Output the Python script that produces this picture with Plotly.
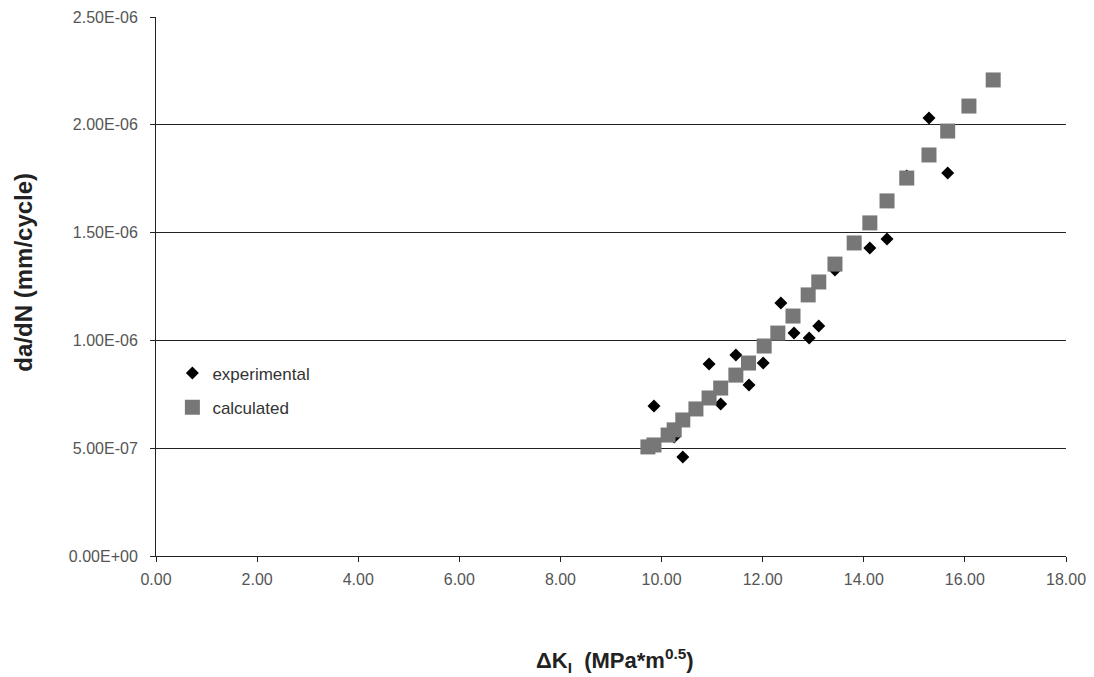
import plotly.graph_objects as go

# Stress-intensity range (MPa*m^0.5) and crack growth rate (mm/cycle)
exp_dk = [9.85, 10.25, 10.42, 10.94, 11.17, 11.47, 11.73, 12.01, 12.36, 12.62,
          12.92, 13.11, 13.43, 14.12, 14.46, 14.85, 15.29, 15.66]
exp_rate = [6.96e-07, 5.52e-07, 4.59e-07, 8.91e-07, 7.05e-07, 9.32e-07, 7.93e-07,
            8.95e-07, 1.173e-06, 1.034e-06, 1.011e-06, 1.067e-06, 1.327e-06,
            1.429e-06, 1.470e-06, 1.762e-06, 2.032e-06, 1.776e-06]

calc_dk = [9.73, 9.85, 10.13, 10.25, 10.42, 10.68, 10.94, 11.17, 11.47, 11.72,
           12.03, 12.30, 12.60, 12.90, 13.11, 13.43, 13.81, 14.12, 14.46, 14.85,
           15.29, 15.66, 16.08, 16.56]
calc_rate = [5.06e-07, 5.15e-07, 5.61e-07, 5.85e-07, 6.31e-07, 6.82e-07, 7.33e-07,
             7.79e-07, 8.39e-07, 8.95e-07, 9.74e-07, 1.034e-06, 1.113e-06,
             1.211e-06, 1.271e-06, 1.354e-06, 1.452e-06, 1.545e-06, 1.647e-06,
             1.753e-06, 1.860e-06, 1.971e-06, 2.087e-06, 2.208e-06]

y_ticks = [0, 5e-07, 1e-06, 1.5e-06, 2e-06, 2.5e-06]
y_tick_text = ["0.00E+00", "5.00E-07", "1.00E-06", "1.50E-06", "2.00E-06", "2.50E-06"]
x_ticks = [0, 2, 4, 6, 8, 10, 12, 14, 16, 18]

FONT = "Liberation Sans, Arial, sans-serif"

fig = go.Figure()
fig.add_trace(go.Scatter(
    x=exp_dk, y=exp_rate, mode="markers", name="experimental", legendgroup="exp",
    marker=dict(symbol="diamond", size=10, color="black"),
))
fig.add_trace(go.Scatter(
    x=calc_dk, y=calc_rate, mode="markers", name="calculated", legendgroup="calc",
    marker=dict(symbol="square", size=15, color="#777777"),
))

fig.update_layout(
    width=1094, height=677,
    margin=dict(l=156, r=28, t=17, b=121),
    paper_bgcolor="white", plot_bgcolor="white",
    font=dict(family=FONT, color="#555555", size=16),
    showlegend=True,
    legend=dict(
        x=0.018, y=0.372, xanchor="left", yanchor="top",
        bgcolor="rgba(0,0,0,0)", font=dict(size=17, color="#333333"),
        itemsizing="trace", traceorder="grouped", tracegroupgap=9,
    ),
    xaxis=dict(
        range=[0, 18], tickvals=x_ticks, tickformat=".2f", automargin=False,
        showgrid=False, zeroline=False,
        showline=True, linecolor="#222222", linewidth=1,
        ticks="outside", ticklen=5, tickcolor="#222222", ticklabelstandoff=4,
        tickfont=dict(size=16, color="#555555"),
    ),
    yaxis=dict(
        range=[0, 2.5e-06], tickvals=y_ticks, ticktext=y_tick_text, automargin=False,
        showgrid=True, gridcolor="#222222", gridwidth=1, zeroline=False,
        showline=True, linecolor="#222222", linewidth=1,
        ticks="outside", ticklen=5, tickcolor="#222222", ticklabelstandoff=9,
        tickfont=dict(size=16, color="#555555"),
    ),
    annotations=[
        dict(text="<b>ΔK<sub>I</sub>  (MPa*m<sup>0.5</sup>)</b>",
             xref="paper", yref="paper", x=0.504, y=-0.193,
             xanchor="center", yanchor="middle", showarrow=False,
             font=dict(size=22, color="#222222", family=FONT)),
        dict(text="<b>da/dN (mm/cycle)</b>",
             xref="paper", yref="paper", x=-0.146, y=0.526,
             xanchor="center", yanchor="middle", showarrow=False, textangle=-90,
             font=dict(size=24, color="#222222", family=FONT)),
    ],
)

fig.write_html("out.html")
